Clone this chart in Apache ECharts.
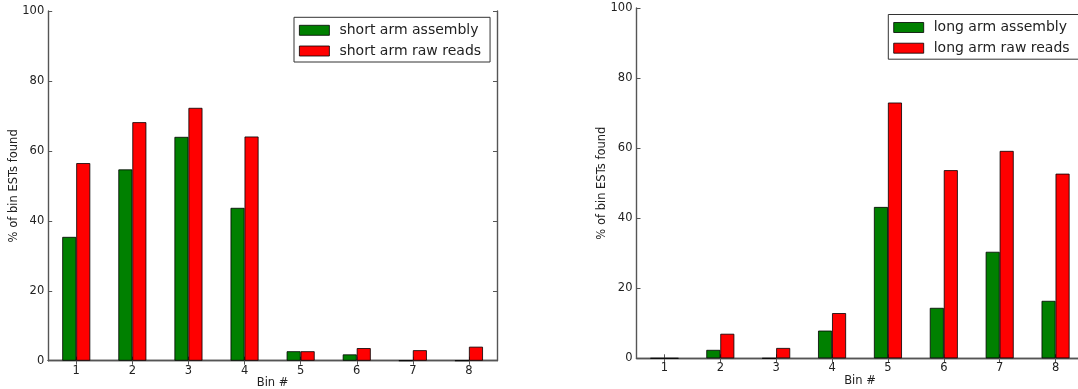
<!DOCTYPE html>
<html>
<head>
<meta charset="utf-8">
<title>Bin EST coverage</title>
<script src="https://cdn.jsdelivr.net/npm/echarts@6/dist/echarts.min.js"></script>
<style>
  html, body { margin: 0; padding: 0; background: #ffffff; }
  #chart { width: 1078px; height: 389px; }
</style>
</head>
<body>
<div id="chart"></div>
<script>
// Bin labels shared by both panels
const bins = ['1', '2', '3', '4', '5', '6', '7', '8'];

// Short arm: % of bin ESTs found
const shortArmAssembly = [35.4, 54.7, 64.0, 43.7, 2.7, 1.8, 0, 0];
const shortArmRawReads = [56.5, 68.2, 72.3, 64.1, 2.7, 3.6, 3.0, 4.0];

// Long arm: % of bin ESTs found
const longArmAssembly = [0, 2.4, 0, 7.9, 43.2, 14.4, 30.4, 16.4];
const longArmRawReads = [0, 7.0, 2.95, 12.9, 73.0, 53.7, 59.2, 52.7];

// Y scale
const yMin = 0, yMax = 100, yStep = 20;

const FONT = 'DejaVu Sans';
const TEXT = '#222';
const FRAME = '#555';
const GREEN = '#008000';
const RED = '#ff0000';

const tickStyle = { show: true, inside: true, length: 4, lineStyle: { color: FRAME, width: 1 } };
const lineStyle = { show: true, lineStyle: { color: FRAME, width: 1.4 } };

function xAxes(gridIndex, nameGap) {
  return [
    {
      type: 'category', gridIndex, data: bins, position: 'bottom',
      axisLine: lineStyle,
      axisTick: Object.assign({ alignWithLabel: true }, tickStyle),
      axisLabel: { color: TEXT, fontFamily: FONT, fontSize: 11.5, margin: 4 },
      name: 'Bin #', nameLocation: 'middle', nameGap, nameMoveOverlap: false,
      nameTextStyle: { color: TEXT, fontFamily: FONT, fontSize: 11.5 },
      splitLine: { show: false }
    },
    {
      type: 'category', gridIndex, data: bins, position: 'top',
      axisLine: lineStyle,
      axisTick: Object.assign({ alignWithLabel: true }, tickStyle),
      axisLabel: { show: false },
      splitLine: { show: false }
    }
  ];
}

function yAxes(gridIndex, nameGap) {
  return [
    {
      type: 'value', gridIndex, position: 'left',
      min: yMin, max: yMax, interval: yStep,
      axisLine: lineStyle,
      axisTick: tickStyle,
      axisLabel: { color: TEXT, fontFamily: FONT, fontSize: 11.5, margin: 4 },
      splitLine: { show: false },
      name: '% of bin ESTs found', nameLocation: 'middle', nameGap, nameRotate: 90,
      nameMoveOverlap: false,
      nameTextStyle: { color: TEXT, fontFamily: FONT, fontSize: 11.5 }
    },
    {
      type: 'value', gridIndex, position: 'right',
      min: yMin, max: yMax, interval: yStep,
      axisLine: lineStyle,
      axisTick: tickStyle,
      axisLabel: { show: false },
      splitLine: { show: false }
    }
  ];
}

function barSeries(name, data, color, xIdx, yIdx) {
  return {
    type: 'bar', name, data,
    xAxisIndex: xIdx, yAxisIndex: yIdx,
    barWidth: 14, barGap: '0%',
    itemStyle: { color, borderColor: '#000', borderWidth: 0.8 },
    emphasis: { disabled: true }
  };
}

function legend(names, left, top) {
  return {
    orient: 'vertical', left, top,
    data: names,
    icon: 'rect',
    itemWidth: 30, itemHeight: 10, itemGap: 4.7,
    padding: [5, 9, 3, 5],
    borderColor: '#333', borderWidth: 1, backgroundColor: '#fff',
    itemStyle: { borderColor: '#000', borderWidth: 0.8 },
    textStyle: { color: TEXT, fontFamily: FONT, fontSize: 14, lineHeight: 16, padding: [0, 0, 0, 5] },
    selectedMode: false
  };
}

const chart = echarts.init(document.getElementById('chart'), null, { renderer: 'canvas' });

chart.setOption({
  animation: false,
  backgroundColor: '#ffffff',
  grid: [
    { left: 48.2, top: 11, width: 448.8, height: 349.7, outerBoundsMode: 'none', containLabel: false },
    { left: 636.5, top: 8, width: 447, height: 350.3, outerBoundsMode: 'none', containLabel: false }
  ],
  xAxis: [].concat(xAxes(0, 16.5), xAxes(1, 16.3)),
  yAxis: [].concat(yAxes(0, 28), yAxes(1, 28)),
  legend: [
    legend(['short arm assembly', 'short arm raw reads'], 294, 17.3),
    legend(['long arm assembly', 'long arm raw reads'], 888.3, 14.5)
  ],
  series: [
    barSeries('short arm assembly', shortArmAssembly, GREEN, 0, 0),
    barSeries('short arm raw reads', shortArmRawReads, RED, 0, 0),
    barSeries('long arm assembly', longArmAssembly, GREEN, 2, 2),
    barSeries('long arm raw reads', longArmRawReads, RED, 2, 2)
  ]
});
</script>
</body>
</html>
